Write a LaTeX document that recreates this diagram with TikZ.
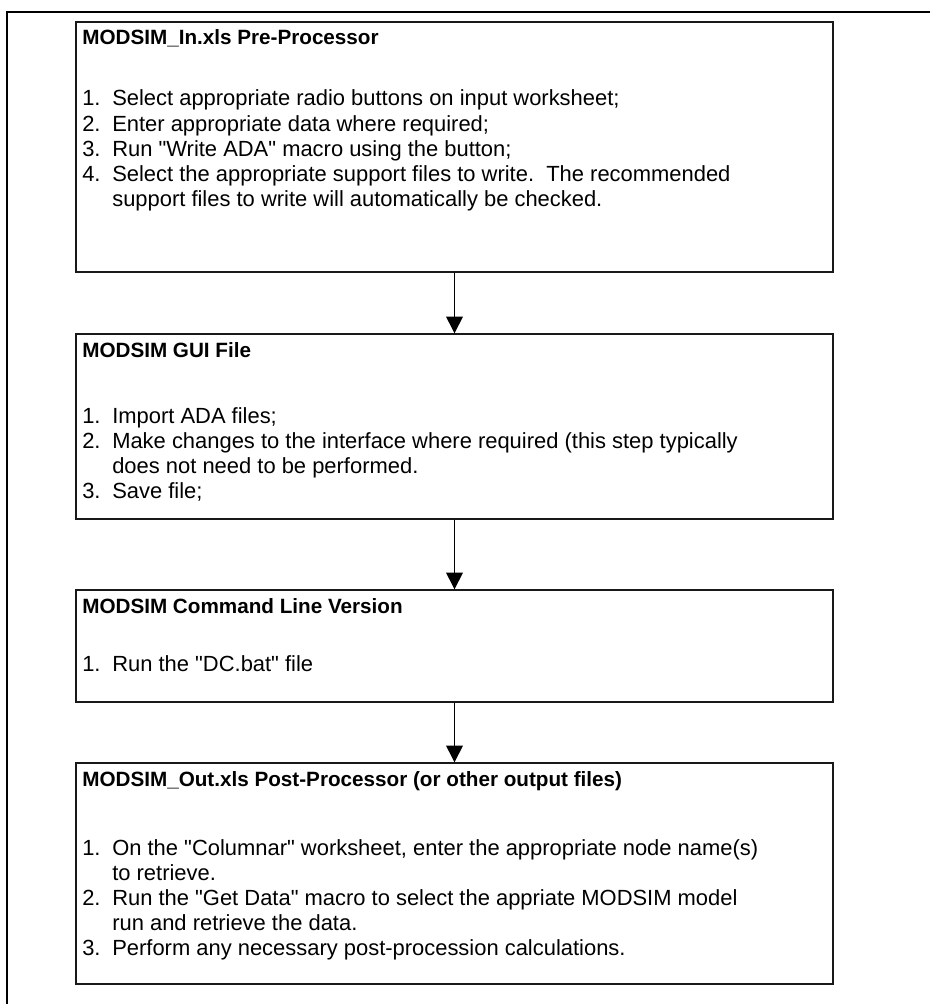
\documentclass[tikz,border=0pt]{standalone}
\usepackage{fontspec}
\setmainfont{Liberation Sans}
\usepackage{tikz}
\usetikzlibrary{arrows.meta, positioning, calc}

\newcommand{\itemno}[1]{\makebox[0.75cm][l]{#1}}
\newcommand{\q}{\textquotedbl}

\begin{document}
\begin{tikzpicture}[
  x=0.025cm, y=-0.025cm,
  box/.style={draw=black!90, line width=0.9pt, minimum width=18.925cm, inner sep=0pt},
  title/.style={anchor=base west, inner sep=0pt, font=\fontsize{14.7pt}{17.8pt}\selectfont\bfseries},
  body/.style={anchor=base west, inner sep=0pt, font=\fontsize{15.6pt}{17.8pt}\selectfont},
  arr/.style={-{Triangle[length=0.42cm, width=0.42cm]}, line width=0.75pt}
]
  \useasboundingbox (0,0) rectangle (930,1004);

  % page frame
  \draw[line width=1.2pt] (930,12) -- (7,12) -- (7,1004);

  % Pre-processor
  \node[box, minimum height=6.25cm] (preproc) at (454.5,147) {};
  \node[title] (preproc-title) at (82,45) {MODSIM\_In.xls Pre-Processor};
  \node[body] (preproc-body) at (82,106) {\begin{tabular}[t]{@{}l@{}}
    \itemno{1.}Select appropriate radio buttons on input worksheet;\\
    \itemno{2.}Enter appropriate data where required;\\
    \itemno{3.}Run \q Write ADA\q{} macro using the button;\\
    \itemno{4.}Select the appropriate support files to write.\ \ The recommended\\
    \itemno{}support files to write will automatically be checked.
  \end{tabular}};

  % GUI file
  \node[box, minimum height=4.625cm] (gui) at (454.5,426.5) {};
  \node[title] (gui-title) at (82,357) {MODSIM GUI File};
  \node[body] (gui-body) at (82,423) {\begin{tabular}[t]{@{}l@{}}
    \itemno{1.}Import ADA files;\\
    \itemno{2.}Make changes to the interface where required (this step typically\\
    \itemno{}does not need to be performed.\\
    \itemno{3.}Save file;
  \end{tabular}};

  % Command line version
  \node[box, minimum height=2.8cm] (cmdline) at (454.5,646) {};
  \node[title] (cmdline-title) at (82,613) {MODSIM Command Line Version};
  \node[body] (cmdline-body) at (82,671) {\itemno{1.}Run the \q DC.bat\q{} file};

  % Post-processor
  \node[box, minimum height=5.525cm] (postproc) at (454.5,873.5) {};
  \node[title] (postproc-title) at (82,786) {MODSIM\_Out.xls Post-Processor (or other output files)};
  \node[body] (postproc-body) at (82,855) {\begin{tabular}[t]{@{}l@{}}
    \itemno{1.}On the \q Columnar\q{} worksheet, enter the appropriate node name(s)\\
    \itemno{}to retrieve.\\
    \itemno{2.}Run the \q Get Data\q{} macro to select the appriate MODSIM model\\
    \itemno{}run and retrieve the data.\\
    \itemno{3.}Perform any necessary post-procession calculations.
  \end{tabular}};

  % flow
  \draw[arr] (preproc) -- (gui);
  \draw[arr] (gui) -- (cmdline);
  \draw[arr] (cmdline) -- (postproc);

\end{tikzpicture}
\end{document}
